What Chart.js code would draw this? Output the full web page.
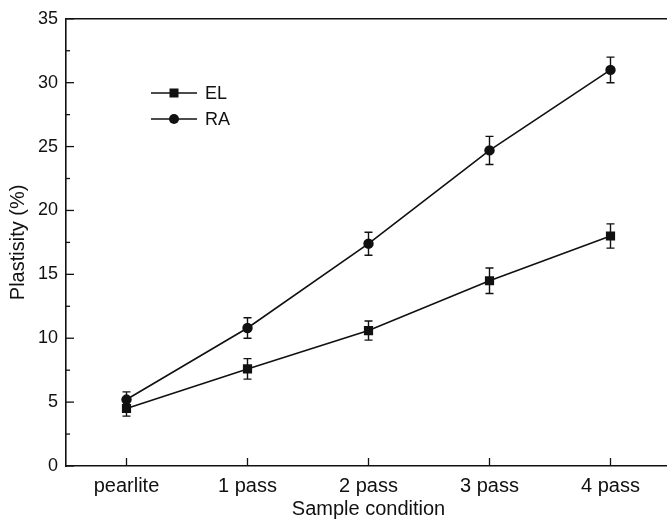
<!DOCTYPE html>
<html>
<head>
<meta charset="utf-8">
<script src="https://cdn.jsdelivr.net/npm/chart.js@4.4.1/dist/chart.umd.min.js"></script>
<style>
  html, body { margin: 0; padding: 0; background: #fff; overflow: hidden; }
  #wrap { width: 667px; height: 524px; overflow: hidden; position: relative; }
  canvas { display: block; }
</style>
</head>
<body>
<div id="wrap"><canvas id="c" width="680" height="524"></canvas></div>
<script>
const categories = ['pearlite', '1 pass', '2 pass', '3 pass', '4 pass'];
const elValues = [4.5, 7.6, 10.6, 14.5, 18.0];
const elErrors = [0.6, 0.8, 0.75, 1.0, 0.95];
const raValues = [5.2, 10.8, 17.4, 24.7, 31.0];
const raErrors = [0.6, 0.8, 0.9, 1.1, 1.0];
const yMin = 0, yMax = 35, yStep = 5, yMinorStep = 2.5;

const INK = '#111';
const FONT = "'Liberation Sans', Arial, sans-serif";

const errors = [elErrors, raErrors];

const decorPlugin = {
  id: 'decor',
  afterDatasetsDraw(chart) {
    const ctx = chart.ctx;
    const xs = chart.scales.x, ys = chart.scales.y;
    const area = chart.chartArea;
    ctx.save();
    // error bars
    ctx.strokeStyle = INK;
    ctx.lineWidth = 1.4;
    chart.data.datasets.forEach((ds, di) => {
      ds.data.forEach((v, i) => {
        const e = errors[di][i];
        const x = xs.getPixelForValue(i);
        const yt = ys.getPixelForValue(v + e);
        const yb = ys.getPixelForValue(v - e);
        ctx.beginPath();
        ctx.moveTo(x, yt); ctx.lineTo(x, yb);
        ctx.moveTo(x - 4, yt); ctx.lineTo(x + 4, yt);
        ctx.moveTo(x - 4, yb); ctx.lineTo(x + 4, yb);
        ctx.stroke();
      });
    });
    // top border
    ctx.lineWidth = 1.6;
    ctx.beginPath();
    ctx.moveTo(area.left, area.top);
    ctx.lineTo(area.right, area.top);
    ctx.stroke();
    // inward y ticks
    ctx.lineWidth = 1.3;
    for (let v = yMin; v <= yMax + 1e-9; v += yMinorStep) {
      const y = ys.getPixelForValue(v);
      const major = Math.abs(v / yStep - Math.round(v / yStep)) < 1e-6;
      ctx.beginPath();
      ctx.moveTo(area.left, y);
      ctx.lineTo(area.left + (major ? 8 : 4), y);
      ctx.stroke();
    }
    // inward x ticks
    categories.forEach((c, i) => {
      const x = xs.getPixelForValue(i);
      ctx.beginPath();
      ctx.moveTo(x, area.bottom);
      ctx.lineTo(x, area.bottom - 8);
      ctx.stroke();
    });
    // legend
    const legendY = [93, 119];
    chart.data.datasets.forEach((ds, di) => {
      const y = legendY[di];
      ctx.strokeStyle = INK;
      ctx.lineWidth = 1.6;
      ctx.beginPath();
      ctx.moveTo(151, y); ctx.lineTo(197, y);
      ctx.stroke();
      ctx.fillStyle = INK;
      if (ds.pointStyle === 'rect') {
        ctx.fillRect(174 - 4.5, y - 4.5, 9, 9);
      } else {
        ctx.beginPath();
        ctx.arc(174, y, 5, 0, Math.PI * 2);
        ctx.fill();
      }
      ctx.font = '18px ' + FONT;
      ctx.textAlign = 'left';
      ctx.textBaseline = 'middle';
      ctx.fillText(ds.label, 205, y + 1);
    });
    ctx.restore();
  }
};

new Chart(document.getElementById('c'), {
  type: 'line',
  data: {
    labels: categories,
    datasets: [
      {
        label: 'EL', data: elValues,
        borderColor: INK, backgroundColor: INK, borderWidth: 1.6,
        pointStyle: 'rect', pointRadius: 6.5, pointHoverRadius: 6.5,
        pointBackgroundColor: INK, pointBorderColor: INK, pointBorderWidth: 0,
        tension: 0
      },
      {
        label: 'RA', data: raValues,
        borderColor: INK, backgroundColor: INK, borderWidth: 1.6,
        pointStyle: 'circle', pointRadius: 5.2, pointHoverRadius: 5.2,
        pointBackgroundColor: INK, pointBorderColor: INK, pointBorderWidth: 0,
        tension: 0
      }
    ]
  },
  options: {
    responsive: false,
    animation: false,
    events: [],
    layout: { padding: { top: 18, right: 9, left: 0, bottom: 0 } },
    plugins: { legend: { display: false }, tooltip: { enabled: false } },
    scales: {
      x: {
        type: 'category',
        offset: true,
        grid: { display: false, drawTicks: false },
        border: { display: true, color: INK, width: 1.6 },
        ticks: { color: INK, font: { family: FONT, size: 20 }, padding: 8, maxRotation: 0 },
        title: { display: true, text: 'Sample condition', color: INK, font: { family: FONT, size: 20 }, padding: { top: 0, bottom: 3 } },
        afterFit(s) { s.height = 58; }
      },
      y: {
        min: yMin, max: yMax,
        grid: { display: false, drawTicks: false },
        border: { display: true, color: INK, width: 1.6 },
        ticks: { stepSize: yStep, color: INK, font: { family: FONT, size: 18 }, padding: 8 },
        title: { display: true, text: 'Plastisity (%)', color: INK, font: { family: FONT, size: 20 }, padding: { top: 6, bottom: 0 } },
        afterFit(s) { s.width = 66; }
      }
    }
  },
  plugins: [decorPlugin]
});
</script>
</body>
</html>
